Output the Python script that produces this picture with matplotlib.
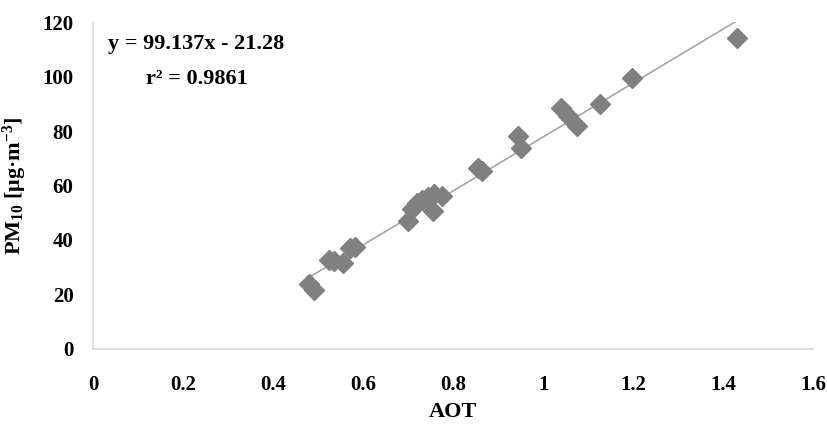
import matplotlib
matplotlib.use("Agg")
import matplotlib.pyplot as plt
import numpy as np

aot = [0.48, 0.49, 0.525, 0.535, 0.555, 0.57, 0.582, 0.70, 0.708, 0.72, 0.73, 0.745, 0.757, 0.755, 0.776,
       0.855, 0.865, 0.945, 0.95, 1.04, 1.055, 1.075, 1.125, 1.198, 1.43]
pm10 = [24, 21.8, 32.8, 32.3, 31.6, 37.2, 37.6, 46.8, 51.5, 53.5, 54.5, 55.8, 57.0, 50.5, 56.3,
        66.5, 65.2, 78.3, 73.8, 88.4, 85.5, 81.8, 90.0, 99.5, 114.0]
slope, intercept = 99.137, -21.28
xticks = [0, 0.2, 0.4, 0.6, 0.8, 1, 1.2, 1.4, 1.6]
yticks = [0, 20, 40, 60, 80, 100, 120]

plt.rcParams['font.family'] = ['Liberation Serif', 'DejaVu Serif']
plt.rcParams['mathtext.fontset'] = 'custom'
plt.rcParams['mathtext.rm'] = 'Liberation Serif:bold'
plt.rcParams['mathtext.it'] = 'Liberation Serif:bold'
plt.rcParams['mathtext.bf'] = 'Liberation Serif:bold'
plt.rcParams['mathtext.default'] = 'rm'

fig = plt.figure(figsize=(8.27, 4.26), dpi=100)
ax = fig.add_axes([0.1125, 0.181, 0.871, 0.767])

xf = np.array([min(aot), max(aot)])
ax.plot(xf, slope * xf + intercept, color='#a6a6a6', lw=1.2, zorder=2)
ax.plot(aot, pm10, linestyle='none', marker='D', markersize=10, color='#808080', zorder=3)

ax.set_xlim(0, 1.6)
ax.set_ylim(0, 120)
ax.set_xticks(xticks)
ax.set_xticklabels([f"{t:g}" for t in xticks])
ax.set_yticks(yticks)
for s in ['top', 'right']:
    ax.spines[s].set_visible(False)
for s in ['left', 'bottom']:
    ax.spines[s].set_color('#d9d9d9')
    ax.spines[s].set_linewidth(1.2)
ax.tick_params(length=0, labelsize=15)
ax.tick_params(axis='x', pad=19)
ax.tick_params(axis='y', pad=14)
for lab in ax.get_xticklabels() + ax.get_yticklabels():
    lab.set_fontweight('bold')

ax.set_xlabel('AOT', fontsize=16, fontweight='bold', labelpad=5)
ax.set_ylabel(r'PM$_{10}$ [μg·m$^{-3}$]', fontsize=16, fontweight='bold', labelpad=10)
ax.text(0.23, 112, 'y = 99.137x - 21.28', fontsize=16, fontweight='bold', ha='center', va='center')
ax.text(0.23, 99, 'r² = 0.9861', fontsize=16, fontweight='bold', ha='center', va='center')

fig.savefig('out.png', dpi=100)
